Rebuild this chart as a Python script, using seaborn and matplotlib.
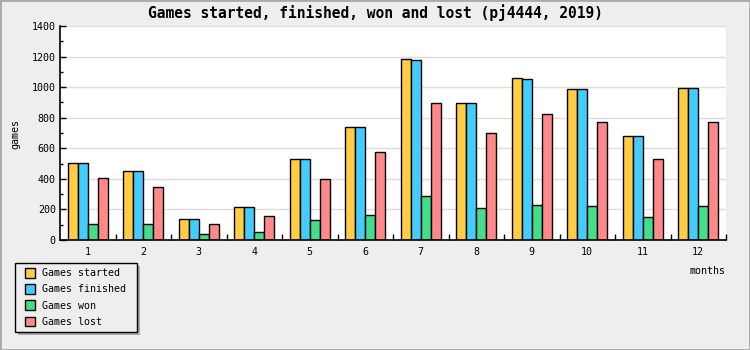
import matplotlib
matplotlib.use("Agg")
import matplotlib.pyplot as plt
import seaborn as sns
import pandas as pd
from matplotlib.patches import Patch, Rectangle
from matplotlib.ticker import MultipleLocator, FixedLocator

months = ["1", "2", "3", "4", "5", "6", "7", "8", "9", "10", "11", "12"]
series_names = ["Games started", "Games finished", "Games won", "Games lost"]
games_started = [505, 449, 135, 213, 527, 736, 1186, 899, 1062, 990, 683, 997]
games_finished = [505, 449, 135, 213, 527, 736, 1180, 899, 1056, 990, 683, 997]
games_won = [102, 102, 37, 50, 128, 161, 285, 207, 226, 220, 148, 220]
games_lost = [403, 344, 102, 155, 396, 573, 893, 697, 827, 775, 533, 775]
colors = ["#ffcc44", "#44ccff", "#44dd88", "#ff8888"]

rows = []
for name, vals in zip(series_names, [games_started, games_finished, games_won, games_lost]):
    for m, v in zip(months, vals):
        rows.append({"month": m, "value": v, "series": name})
df = pd.DataFrame(rows)

sns.set_theme(style="white")
plt.rcParams["font.family"] = ["DejaVu Sans Mono"]
plt.rcParams["text.color"] = "black"
plt.rcParams["xtick.color"] = "black"
plt.rcParams["ytick.color"] = "black"
plt.rcParams["axes.labelcolor"] = "black"

W, H = 750, 350
fig = plt.figure(figsize=(7.5, 3.5), dpi=100)
fig.patch.set_facecolor("#eeeeee")
ax = fig.add_axes([60 / W, 1 - 240 / H, 666 / W, 214 / H])
ax.set_facecolor("white")

sns.barplot(data=df, x="month", y="value", hue="series", order=months,
            hue_order=series_names, palette=colors, width=0.72, saturation=1,
            edgecolor="black", linewidth=1, errorbar=None, legend=False, ax=ax)

ax.set_xlim(-0.5, 11.5)
ax.set_ylim(0, 1400)
ax.yaxis.set_major_locator(MultipleLocator(200))
ax.yaxis.set_minor_locator(MultipleLocator(100))
ax.xaxis.set_minor_locator(FixedLocator([i + 0.5 for i in range(12)]))
ax.set_axisbelow(True)
ax.grid(axis="y", which="major", color="#dddddd", linewidth=1)
ax.grid(axis="x", visible=False)
for s in ["top", "right"]:
    ax.spines[s].set_visible(False)
for s in ["left", "bottom"]:
    ax.spines[s].set_color("black")
    ax.spines[s].set_linewidth(1.2)

ax.tick_params(axis="y", which="major", direction="in", length=4, width=1, color="black",
               labelsize=7.2, pad=3, left=True, labelcolor="black")
ax.tick_params(axis="y", which="minor", direction="in", length=2.2, width=1, color="black", left=True)
ax.tick_params(axis="x", which="major", length=0, labelsize=7.2, pad=5, labelcolor="black")
ax.tick_params(axis="x", which="minor", direction="in", length=4, width=1, color="black", bottom=True)

ax.set_xlabel("")
ax.set_ylabel("")
fig.text(15 / W, 1 - 134 / H, "games", rotation=90, ha="center", va="center",
         fontsize=7.2, color="black")
fig.text(725 / W, 1 - 271 / H, "months", ha="right", va="center", fontsize=7.2, color="black")
fig.text(375 / W, 1 - 13 / H, "Games started, finished, won and lost (pj4444, 2019)",
         ha="center", va="center", fontsize=10.5, fontweight="bold", color="black")

# legend frame with shadow
fig.patches.append(Rectangle((18 / W, 1 - 335 / H), 122 / W, 69 / H, transform=fig.transFigure,
                             facecolor="#aaaaaa", edgecolor="none", zorder=1))
fig.patches.append(Rectangle((15 / W, 1 - 332 / H), 122 / W, 69 / H, transform=fig.transFigure,
                             facecolor="#eeeeee", edgecolor="black", linewidth=1, zorder=2))

handles = [Patch(facecolor=c, edgecolor="black", linewidth=1) for c in colors]
leg = fig.legend(handles, series_names, loc="upper left",
                 bbox_to_anchor=(25 / W, 1 - 268 / H), bbox_transform=fig.transFigure,
                 fontsize=7.2, frameon=False,
                 handlelength=1.0, handleheight=1.1, handletextpad=0.7,
                 labelspacing=0.6, borderpad=0, borderaxespad=0)
leg.set_zorder(5)
for t in leg.get_texts():
    t.set_color("black")

fig.patches.append(Rectangle((0, 0), 1, 1, transform=fig.transFigure, fill=False,
                             edgecolor="#aaaaaa", linewidth=2, zorder=6))

fig.savefig("out.png", dpi=100, facecolor=fig.get_facecolor())
